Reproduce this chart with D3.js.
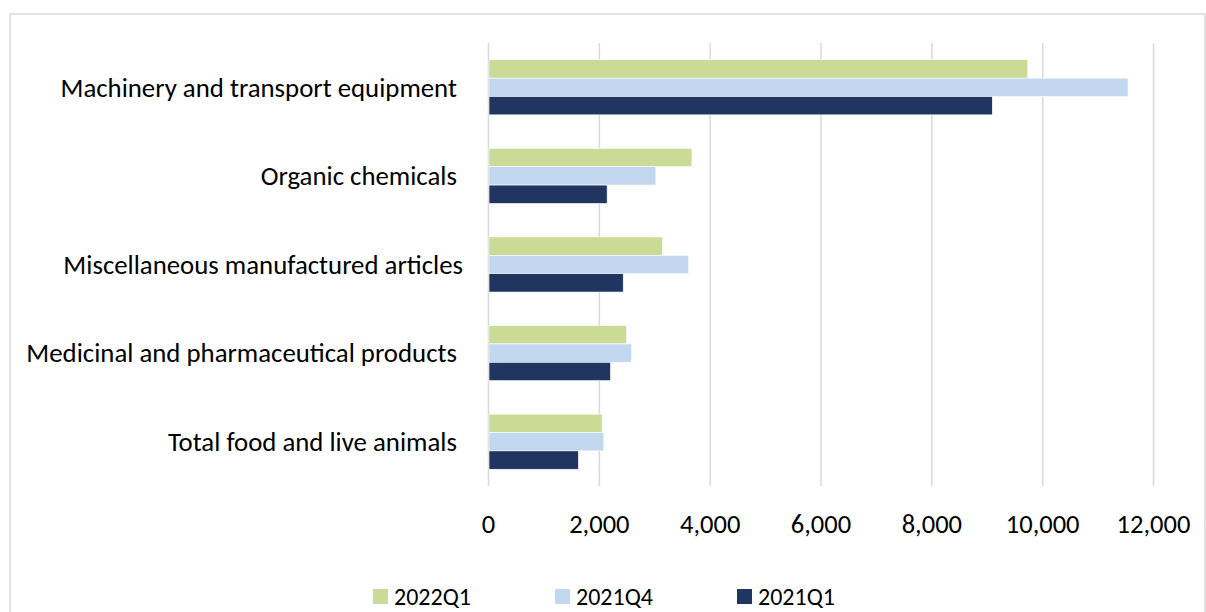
<!DOCTYPE html>
<html>
<head>
<meta charset="utf-8">
<script src="https://cdn.jsdelivr.net/npm/d3@7"></script>
<style>
	body { margin: 0; background: #fff; }
	text { font-family: Carlito, Calibri, Lato, sans-serif; fill: #000; }
</style>
</head>
<body>
<script>
'use strict';

// Categories, top to bottom
const categories = [
	"Machinery and transport equipment ",
	"Organic chemicals ",
	"Miscellaneous manufactured articles",
	"Medicinal and pharmaceutical products ",
	"Total food and live animals "
];
const seriesNames = ["2022Q1", "2021Q4", "2021Q1"];
const values2022Q1 = [9740, 3680, 3150, 2500, 2060];
const values2021Q4 = [11550, 3030, 3620, 2590, 2090];
const values2021Q1 = [9100, 2150, 2440, 2210, 1630];
const xTicks = [0, 2000, 4000, 6000, 8000, 10000, 12000];

const colors = {
	"2022Q1": "#c9db94",
	"2021Q4": "#c2d8f1",
	"2021Q1": "#20355f"
};

const params = {
	width: 1206,
	height: 612,
	left: 488,
	right: 1153,
	top: 43,
	bottom: 486
};

const seriesValues = [values2022Q1, values2021Q4, values2021Q1];
const data = categories.map((c, i) => ({
	category: c,
	values: seriesNames.map((s, j) => ({ series: s, value: seriesValues[j][i] }))
}));

const svg = d3.select("body").append("svg")
	.attr("width", params.width)
	.attr("height", params.height);

// chart border
svg.append("rect")
	.attr("x", 10).attr("y", 14)
	.attr("width", 1195).attr("height", 700)
	.attr("fill", "none")
	.attr("stroke", "#d9d9d9")
	.attr("stroke-width", 1.5);

const xScale = d3.scaleLinear()
	.domain([0, 12000])
	.range([params.left, params.right]);

const yScale = d3.scaleBand()
	.domain(categories)
	.range([params.top, params.bottom])
	.paddingInner(0.378)
	.paddingOuter(0.189);

const ySub = d3.scaleBand()
	.domain(seriesNames)
	.range([0, yScale.bandwidth()]);

// gridlines
svg.append("g")
	.attr("transform", `translate(0,${params.bottom})`)
	.call(d3.axisBottom(xScale).tickValues(xTicks).tickSize(-(params.bottom - params.top)).tickFormat(""))
	.call(g => g.select(".domain").remove())
	.call(g => g.selectAll("line").attr("stroke", "#d9d9d9").attr("stroke-width", 1.5));

// bars
const groups = svg.append("g").selectAll("g")
	.data(data)
	.join("g")
	.attr("transform", d => `translate(0,${yScale(d.category)})`);

groups.selectAll("rect")
	.data(d => d.values)
	.join("rect")
	.attr("x", xScale(0) + 1)
	.attr("y", d => ySub(d.series))
	.attr("width", d => xScale(d.value) - xScale(0) - 1)
	.attr("height", ySub.bandwidth())
	.attr("fill", d => colors[d.series])
	.attr("stroke", "#ffffff")
	.attr("stroke-width", 0.6);

// category labels
svg.append("g")
	.attr("transform", `translate(463,0)`)
	.call(d3.axisLeft(yScale).tickSize(0).tickPadding(0))
	.call(g => g.select(".domain").remove())
	.call(g => g.selectAll("text")
		.attr("font-size", 26.8)
		.style("white-space", "pre")
		.attr("dy", "0.35em"));

// x tick labels
svg.append("g")
	.attr("transform", `translate(0,${params.bottom})`)
	.call(d3.axisBottom(xScale).tickValues(xTicks).tickSize(0).tickPadding(28).tickFormat(d3.format(",")))
	.call(g => g.select(".domain").remove())
	.call(g => g.selectAll("text").attr("font-size", 26.5));

// legend
const legendX = [373, 555, 737];
const legend = svg.append("g").selectAll("g")
	.data(seriesNames)
	.join("g")
	.attr("transform", (d, i) => `translate(${legendX[i]},596.5)`);

legend.append("rect")
	.attr("x", 0).attr("y", -7.5)
	.attr("width", 15).attr("height", 15)
	.attr("fill", d => colors[d]);

legend.append("text")
	.attr("x", 21)
	.attr("dy", "0.35em")
	.attr("font-size", 24)
	.text(d => d);
</script>
</body>
</html>
